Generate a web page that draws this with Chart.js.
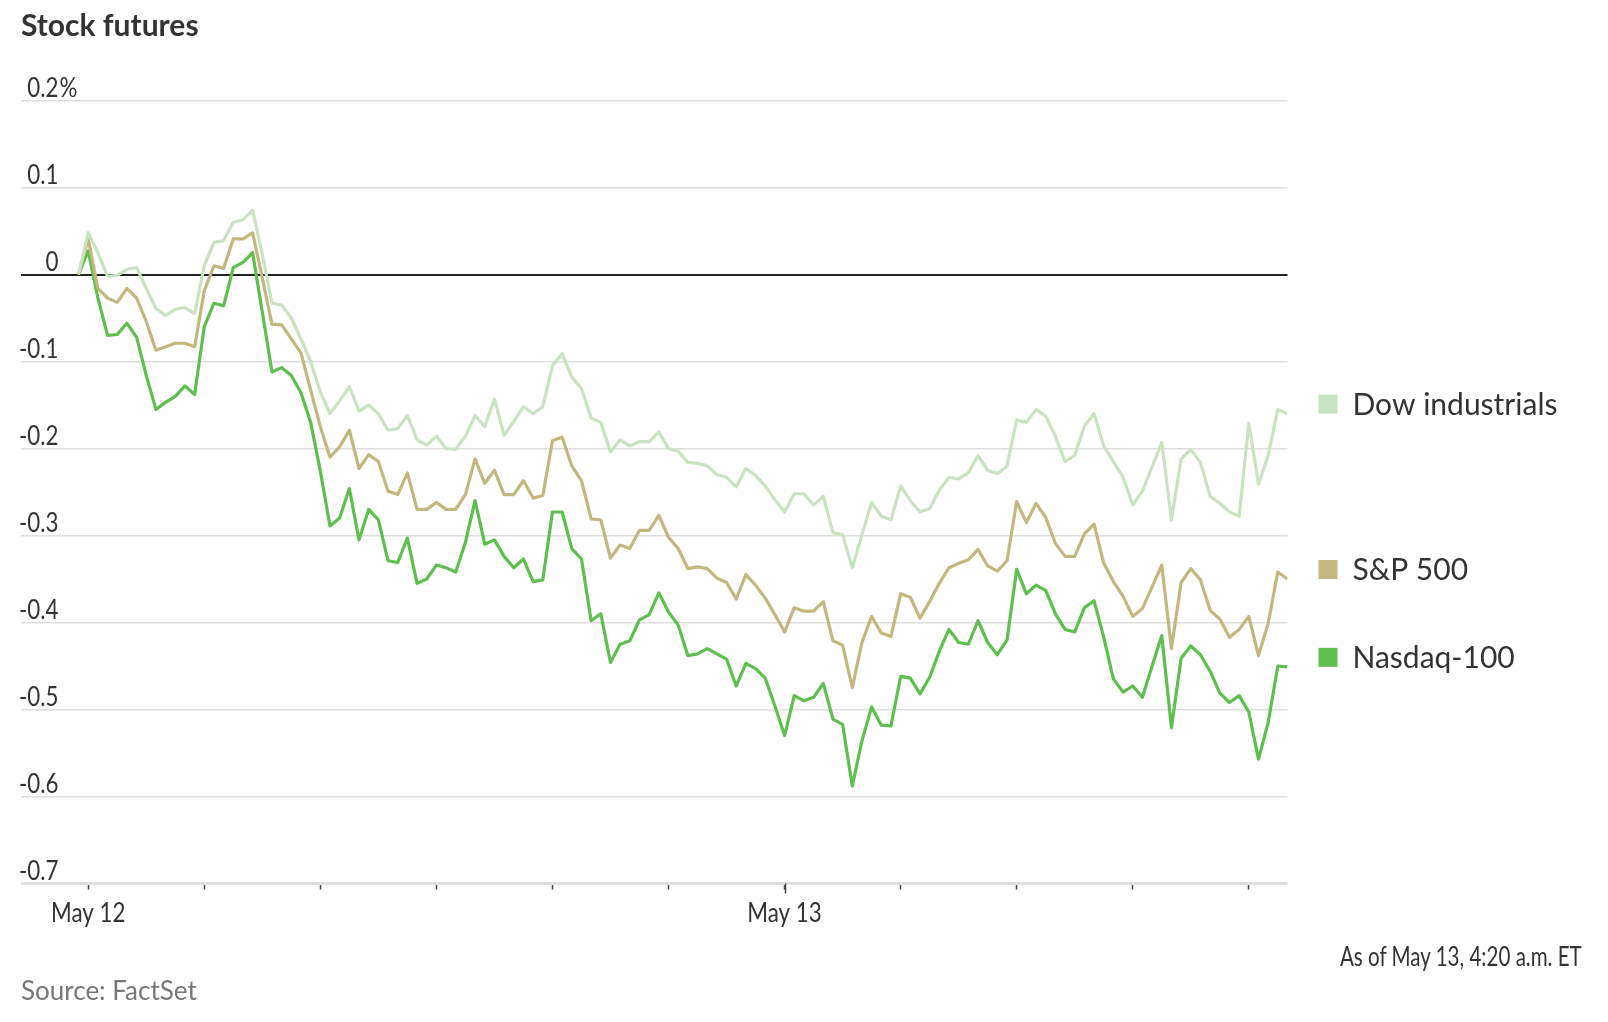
<!DOCTYPE html>
<html lang="en">
<head>
<meta charset="UTF-8">
<title>Stock futures</title>
<style>
  body { margin: 0; background: #fff; }
  .wrap { position: relative; width: 1608px; height: 1022px; overflow: hidden; }
  #chart { position: absolute; left: 0; top: 0; }
  .title {
    position: absolute; left: 21px; top: 9px;
    font: bold 30px Lato, sans-serif; line-height: 30px; color: #333;
  }
  .asof {
    position: absolute; right: 26px; top: 943px;
    font: 26px Lato, sans-serif; line-height: 26px; color: #333;
    white-space: nowrap; transform-origin: right center;
  }
  .source {
    position: absolute; left: 21px; top: 977px;
    font: 26px Lato, sans-serif; line-height: 26px; color: #777;
  }
</style>
</head>
<body>
<div class="wrap">
  <canvas id="chart" width="1608" height="1022"></canvas>
  <div class="title">Stock futures</div>
  <div class="asof" id="asof">As of May 13, 4:20 a.m. ET</div>
  <div class="source">Source: FactSet</div>
</div>
<script src="https://cdn.jsdelivr.net/npm/chart.js"></script>
<script>
// % change, one reading every step (step 1 = May 12, step 73 = May 13)
const dow = [
   0.000,  0.048,  0.025, -0.002, -0.001,  0.006,  0.008, -0.016, -0.039, -0.047,
  -0.040, -0.038, -0.045,  0.010,  0.037,  0.039,  0.060,  0.063,  0.074,  0.023,
  -0.033, -0.035, -0.050, -0.074, -0.100, -0.135, -0.160, -0.145, -0.129, -0.157,
  -0.150, -0.160, -0.179, -0.177, -0.162, -0.190, -0.196, -0.186, -0.200, -0.201,
  -0.186, -0.162, -0.175, -0.143, -0.185, -0.169, -0.152, -0.160, -0.152, -0.105,
  -0.091, -0.118, -0.131, -0.165, -0.170, -0.204, -0.190, -0.197, -0.192, -0.192,
  -0.181, -0.200, -0.203, -0.216, -0.217, -0.220, -0.230, -0.233, -0.244, -0.223,
  -0.231, -0.243, -0.259, -0.273, -0.252, -0.252, -0.265, -0.255, -0.297, -0.299,
  -0.337, -0.299, -0.262, -0.278, -0.282, -0.243, -0.260, -0.273, -0.269, -0.248,
  -0.233, -0.235, -0.228, -0.208, -0.225, -0.229, -0.220, -0.167, -0.170, -0.155,
  -0.163, -0.186, -0.215, -0.208, -0.174, -0.160, -0.197, -0.215, -0.233, -0.265,
  -0.249, -0.221, -0.193, -0.282, -0.212, -0.201, -0.216, -0.255, -0.263, -0.273,
  -0.278, -0.171, -0.241, -0.208, -0.155, -0.160
];
const sp500 = [
   0.000,  0.041, -0.016, -0.027, -0.032, -0.016, -0.027, -0.054, -0.087, -0.083,
  -0.079, -0.079, -0.083, -0.019,  0.010,  0.007,  0.041,  0.041,  0.048, -0.004,
  -0.057, -0.058, -0.074, -0.090, -0.133, -0.175, -0.210, -0.198, -0.179, -0.223,
  -0.207, -0.215, -0.249, -0.253, -0.228, -0.270, -0.270, -0.262, -0.270, -0.270,
  -0.253, -0.212, -0.240, -0.225, -0.253, -0.253, -0.237, -0.257, -0.254, -0.191,
  -0.187, -0.220, -0.237, -0.281, -0.282, -0.326, -0.311, -0.315, -0.294, -0.294,
  -0.277, -0.302, -0.315, -0.338, -0.336, -0.338, -0.349, -0.354, -0.373, -0.345,
  -0.357, -0.372, -0.391, -0.411, -0.383, -0.387, -0.387, -0.376, -0.421, -0.426,
  -0.475, -0.423, -0.393, -0.412, -0.416, -0.367, -0.371, -0.395, -0.376, -0.355,
  -0.337, -0.332, -0.328, -0.316, -0.335, -0.341, -0.329, -0.261, -0.285, -0.263,
  -0.279, -0.309, -0.324, -0.324, -0.298, -0.287, -0.332, -0.353, -0.370, -0.393,
  -0.384, -0.359, -0.334, -0.430, -0.354, -0.338, -0.351, -0.386, -0.396, -0.417,
  -0.408, -0.393, -0.438, -0.401, -0.342, -0.350
];
const nasdaq = [
   0.000,  0.027, -0.027, -0.070, -0.069, -0.056, -0.072, -0.116, -0.155, -0.147,
  -0.140, -0.128, -0.138, -0.060, -0.033, -0.036,  0.008,  0.014,  0.025, -0.043,
  -0.112, -0.107, -0.116, -0.136, -0.170, -0.226, -0.289, -0.280, -0.246, -0.305,
  -0.270, -0.282, -0.329, -0.331, -0.303, -0.355, -0.350, -0.334, -0.337, -0.342,
  -0.308, -0.260, -0.310, -0.305, -0.324, -0.337, -0.327, -0.353, -0.351, -0.273,
  -0.273, -0.315, -0.327, -0.398, -0.390, -0.446, -0.425, -0.421, -0.397, -0.391,
  -0.366, -0.388, -0.403, -0.438, -0.436, -0.430, -0.436, -0.442, -0.473, -0.447,
  -0.453, -0.464, -0.496, -0.530, -0.484, -0.490, -0.486, -0.470, -0.511, -0.517,
  -0.588, -0.536, -0.497, -0.518, -0.519, -0.462, -0.464, -0.482, -0.463, -0.433,
  -0.408, -0.423, -0.425, -0.398, -0.423, -0.437, -0.420, -0.339, -0.367, -0.357,
  -0.363, -0.390, -0.408, -0.411, -0.383, -0.375, -0.417, -0.465, -0.480, -0.473,
  -0.486, -0.450, -0.415, -0.521, -0.441, -0.427, -0.437, -0.456, -0.481, -0.492,
  -0.484, -0.503, -0.557, -0.515, -0.450, -0.451
];
const seriesNames = ['Dow industrials', 'S&P 500', 'Nasdaq-100'];
const seriesColors = ['#c8e3c0', '#c4b67f', '#5ebf4f'];

const xTickSteps = [1, 13, 25, 37, 49, 61, 73, 85, 97, 109, 121];
const xTickLabels = ['May 12', '', '', '', '', '', 'May 13', '', '', '', ''];
const dayBreakSteps = [73];
const yTickValues = [0.2, 0.1, 0, -0.1, -0.2, -0.3, -0.4, -0.5, -0.6, -0.7];
const yTickLabels = ['0.2%', '0.1', '0', '-0.1', '-0.2', '-0.3', '-0.4', '-0.5', '-0.6', '-0.7'];

// the original uses a narrow face; squeeze Lato to match it
const NARROW_X = 0.86;
Chart.defaults.font.family = 'Lato, sans-serif';

const isZero = v => Math.abs(v) < 1e-9;

function narrowText(ctx, text, x, y, align) {
  ctx.save();
  ctx.translate(x, y);
  ctx.scale(NARROW_X, 1);
  ctx.textAlign = align;
  ctx.fillText(text, 0, 0);
  ctx.restore();
}

// axis labels, longer day tick and end labels
const chartText = {
  id: 'chartText',
  afterDraw(chart) {
    const { ctx, chartArea, scales: { x, y } } = chart;
    ctx.save();

    ctx.font = '26px Lato, sans-serif';
    ctx.fillStyle = '#333';
    ctx.textBaseline = 'alphabetic';
    y.ticks.forEach((t, i) => {
      const py = y.getPixelForValue(t.value) - 4;
      const label = yTickLabels[i];
      const num = label.replace('%', '');
      narrowText(ctx, num, chartArea.left + 38, py, 'right');
      if (label !== num) narrowText(ctx, '%', chartArea.left + 39, py, 'left');
    });

    x.ticks.forEach((t, i) => {
      if (xTickLabels[i]) narrowText(ctx, xTickLabels[i], x.getPixelForValue(t.value), chartArea.bottom + 38, 'center');
    });

    ctx.strokeStyle = '#444';
    ctx.lineWidth = 1.5;
    dayBreakSteps.forEach(s => {
      const px = Math.round(x.getPixelForValue(s)) + 0.5;
      ctx.beginPath();
      ctx.moveTo(px, chartArea.bottom);
      ctx.lineTo(px, chartArea.bottom + 10);
      ctx.stroke();
    });

    ctx.font = '30px Lato, sans-serif';
    ctx.textAlign = 'left';
    chart.data.datasets.forEach((ds, i) => {
      const pts = chart.getDatasetMeta(i).data;
      const py = pts[pts.length - 1].y;
      ctx.fillStyle = ds.borderColor;
      ctx.fillRect(chartArea.right + 31, py - 19, 19, 19);
      ctx.fillStyle = '#333';
      ctx.fillText(ds.label, chartArea.right + 65, py + 1);
    });
    ctx.restore();
  }
};

const series = [dow, sp500, nasdaq];

new Chart(document.getElementById('chart'), {
  type: 'line',
  data: {
    datasets: series.map((values, k) => ({
      label: seriesNames[k],
      data: values.map((v, i) => ({ x: i, y: v })),
      borderColor: seriesColors[k],
      borderWidth: 3.2,
      borderJoinStyle: 'round',
      pointRadius: 0,
      tension: 0,
      fill: false
    }))
  },
  options: {
    responsive: false,
    animation: false,
    devicePixelRatio: 1,
    layout: { padding: { left: 20.5, right: 320.5, top: 100.5, bottom: 88.5 } },
    plugins: { legend: { display: false }, tooltip: { enabled: false } },
    scales: {
      x: {
        type: 'linear',
        min: -6,
        max: dow.length - 1,
        afterBuildTicks: s => { s.ticks = xTickSteps.map(v => ({ value: v })); },
        afterFit: s => { s.height = 50; },
        border: { display: false },
        grid: { drawOnChartArea: false, drawTicks: true, tickLength: 6, tickColor: '#444', tickWidth: 1.5 },
        ticks: { display: false }
      },
      y: {
        min: -0.7,
        max: 0.2,
        afterBuildTicks: s => { s.ticks = yTickValues.map(v => ({ value: v })); },
        afterFit: s => { s.width = 0; },
        border: { display: false },
        grid: {
          drawTicks: false,
          color: c => (c.tick && isZero(c.tick.value)) ? '#222' : '#dedede',
          lineWidth: c => {
            if (!c.tick) return 1.5;
            if (isZero(c.tick.value)) return 2;
            if (isZero(c.tick.value + 0.7)) return 3;
            return 1.5;
          }
        },
        ticks: { display: false }
      }
    }
  },
  plugins: [chartText]
});

// squeeze the timestamp note to the width of the original
const asof = document.getElementById('asof');
asof.style.transform = 'scaleX(' + (242 / asof.offsetWidth).toFixed(3) + ')';
</script>
</body>
</html>
